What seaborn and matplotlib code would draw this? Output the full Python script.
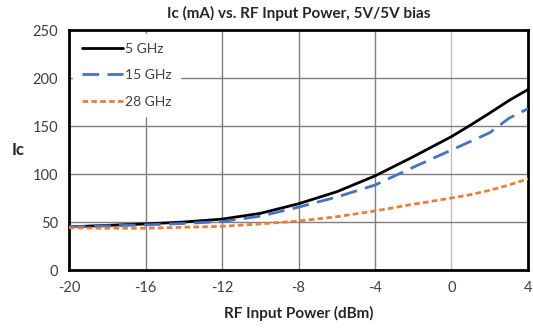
import matplotlib
matplotlib.use("Agg")
import matplotlib.pyplot as plt
import seaborn as sns
import pandas as pd

# RF input power sweep (dBm)
power = [-20, -18, -16, -14, -12, -10, -8, -6, -4, -2, 0, 1, 2, 3, 4]

# Collector current (mA) per frequency
ic_5ghz = [45, 46.5, 48, 50, 53, 59, 69, 81.5, 98, 118, 139, 151, 163.5, 176.5, 188]
ic_15ghz = [45, 46, 47, 48.5, 50.5, 56, 65.5, 76, 88.5, 107, 125, 134, 143, 158, 168]
ic_28ghz = [44, 43.5, 43.5, 44.5, 45.5, 48, 51, 55.5, 61.5, 68.5, 75, 78.5, 83, 88.5, 95]

series_names = ["5 GHz", "15 GHz", "28 GHz"]
colors = ["#000000", "#4472C4", "#ED7D31"]
dashes = [None, (6, 3), (2, 1.2)]

x_ticks = [-20, -16, -12, -8, -4, 0, 4]
y_ticks = [0, 50, 100, 150, 200, 250]

df = pd.DataFrame({
    "power": power * 3,
    "ic": ic_5ghz + ic_15ghz + ic_28ghz,
    "series": [series_names[0]] * len(power) + [series_names[1]] * len(power) + [series_names[2]] * len(power),
})

sns.set_theme(style="white")
plt.rcParams["font.family"] = ["Lato", "DejaVu Sans"]

fig = plt.figure(figsize=(5.33, 3.29), dpi=100)
ax = fig.add_axes([0.1295, 0.1793, 0.8611, 0.7295])

for name, col, dsh in zip(series_names, colors, dashes):
    sub = df[df["series"] == name]
    sns.lineplot(data=sub, x="power", y="ic", ax=ax, color=col, linewidth=2.0,
                 label=name, zorder=3)
    if dsh is not None:
        ax.get_lines()[-1].set_dashes(dsh)

ax.set_xlim(-20, 4)
ax.set_ylim(0, 250)
ax.set_xticks(x_ticks)
ax.set_yticks(y_ticks)
ax.tick_params(axis="both", length=0, labelsize=10.5, colors="#404040", pad=8)
ax.set_xticklabels([str(t) for t in x_ticks])

# Gridlines: darker gray, with the 0 dBm reference lighter
for t in x_ticks[1:-1]:
    ax.axvline(t, color="#bfbfbf" if t == 0 else "#7f7f7f", linewidth=1.0, zorder=1)
for t in y_ticks[1:-1]:
    ax.axhline(t, color="#7f7f7f", linewidth=1.0, zorder=1)

for s in ax.spines.values():
    s.set_visible(True)
    s.set_color("#000000")
    s.set_linewidth(2.0)

ax.set_title("Ic (mA) vs. RF Input Power, 5V/5V bias", fontsize=11, fontweight="bold",
             color="#262626", pad=9)
ax.set_xlabel("RF Input Power (dBm)", fontsize=11, fontweight="bold", color="#262626",
              labelpad=8)
ax.set_ylabel("Ic", fontsize=12, fontweight="bold", color="#262626", rotation=0,
              labelpad=10, va="center")

leg = ax.legend(loc="upper left", frameon=True, fontsize=10, handlelength=3.0,
                labelspacing=1.05, handletextpad=0.15, borderaxespad=0.3,
                borderpad=0.6)
leg.get_frame().set_facecolor("white")
leg.get_frame().set_edgecolor("white")
leg.get_frame().set_alpha(1.0)
leg.get_frame().set_boxstyle("square", pad=0)
for t in leg.get_texts():
    t.set_color("#404040")

fig.savefig("out.png", dpi=100)
